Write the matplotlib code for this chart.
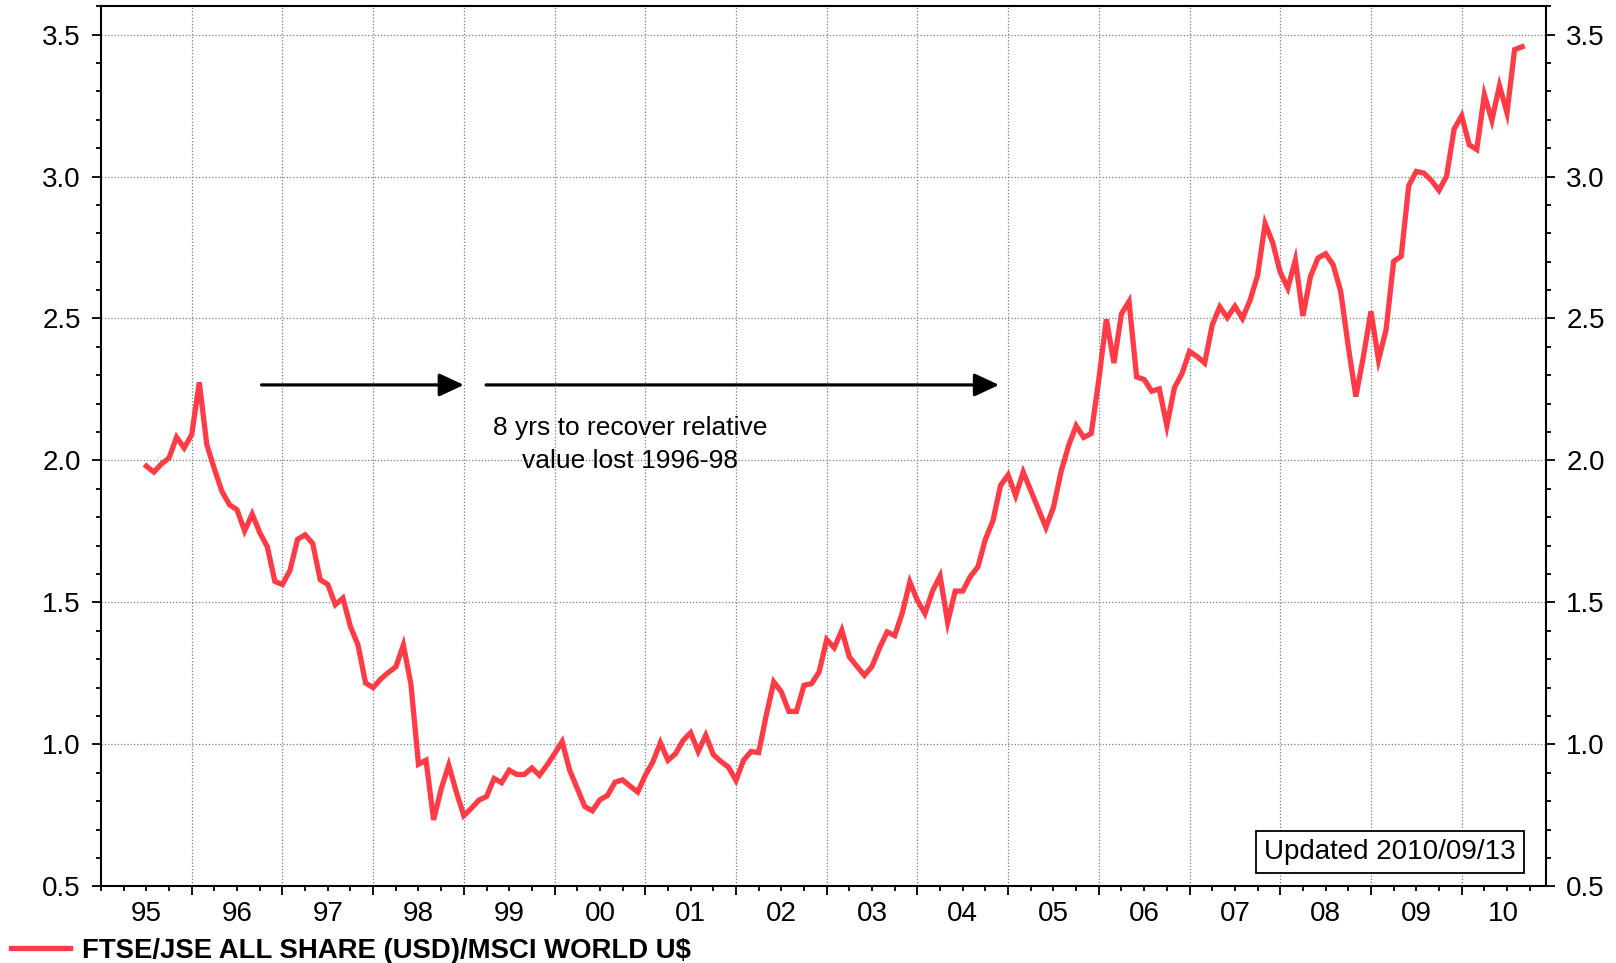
import numpy as np
import pandas as pd
import matplotlib
matplotlib.use("Agg")
import matplotlib.pyplot as plt
from matplotlib.ticker import MultipleLocator, NullFormatter

# FTSE/JSE All Share (USD) relative to MSCI World US$, monthly, Jul 1995 - Sep 2010
ratio_1995 = [1.980, 1.959, 1.988, 2.009, 2.082, 2.044]
ratio_1996 = [2.091, 2.275, 2.055, 1.970, 1.891, 1.844, 1.826, 1.752, 1.811, 1.746, 1.696, 1.574]
ratio_1997 = [1.563, 1.613, 1.722, 1.738, 1.708, 1.580, 1.563, 1.492, 1.515, 1.415, 1.350, 1.216]
ratio_1998 = [1.200, 1.230, 1.253, 1.273, 1.350, 1.212, 0.930, 0.944, 0.734, 0.843, 0.927, 0.833]
ratio_1999 = [0.749, 0.775, 0.804, 0.816, 0.880, 0.865, 0.909, 0.894, 0.894, 0.917, 0.891, 0.927]
ratio_2000 = [0.967, 1.010, 0.909, 0.845, 0.781, 0.766, 0.805, 0.820, 0.867, 0.875, 0.853, 0.832]
ratio_2001 = [0.891, 0.938, 1.006, 0.944, 0.967, 1.014, 1.041, 0.975, 1.032, 0.964, 0.940, 0.920]
ratio_2002 = [0.873, 0.944, 0.975, 0.971, 1.102, 1.220, 1.185, 1.116, 1.116, 1.208, 1.214, 1.255]
ratio_2003 = [1.369, 1.340, 1.402, 1.308, 1.275, 1.243, 1.275, 1.340, 1.396, 1.383, 1.463, 1.572]
ratio_2004 = [1.507, 1.461, 1.540, 1.593, 1.430, 1.540, 1.540, 1.591, 1.625, 1.723, 1.788, 1.912]
ratio_2005 = [1.949, 1.876, 1.959, 1.894, 1.829, 1.764, 1.835, 1.960, 2.052, 2.122, 2.081, 2.095]
ratio_2006 = [2.285, 2.497, 2.343, 2.517, 2.560, 2.294, 2.285, 2.244, 2.252, 2.122, 2.256, 2.306]
ratio_2007 = [2.384, 2.366, 2.343, 2.477, 2.541, 2.503, 2.543, 2.500, 2.564, 2.651, 2.834, 2.767]
ratio_2008 = [2.663, 2.607, 2.706, 2.509, 2.648, 2.713, 2.728, 2.689, 2.595, 2.401, 2.225, 2.366]
ratio_2009 = [2.525, 2.354, 2.460, 2.701, 2.719, 2.968, 3.018, 3.012, 2.986, 2.951, 3.001, 3.167]
ratio_2010 = [3.214, 3.112, 3.095, 3.288, 3.198, 3.320, 3.224, 3.447, 3.457]

year_labels = ["95", "96", "97", "98", "99", "00", "01", "02",
               "03", "04", "05", "06", "07", "08", "09", "10"]

series_label = "FTSE/JSE ALL SHARE (USD)/MSCI WORLD U$"
note_text = "8 yrs to recover relative\nvalue lost 1996-98"
updated_text = "Updated 2010/09/13"

values = np.array(ratio_1995 + ratio_1996 + ratio_1997 + ratio_1998 + ratio_1999 +
                  ratio_2000 + ratio_2001 + ratio_2002 + ratio_2003 + ratio_2004 +
                  ratio_2005 + ratio_2006 + ratio_2007 + ratio_2008 + ratio_2009 +
                  ratio_2010)
dates = pd.date_range("1995-07-01", periods=len(values), freq="MS")
t = dates.year + (dates.month - 1) / 12.0

plt.rcParams["font.family"] = ["Liberation Sans", "DejaVu Sans"]

red = "#ff3b46"
x_min, x_max = 1995.0, 2010.93
tick_size = 20

fig = plt.figure(figsize=(16.16, 9.63), dpi=100)
ax = fig.add_axes([0.0625, 0.0796, 0.8942, 0.914])

line, = ax.plot(t, values, color=red, lw=3.8, solid_joinstyle="miter", label=series_label)

ax.set_xlim(x_min, x_max)
ax.set_ylim(0.5, 3.6)

# y axis on both sides
ax.yaxis.set_major_locator(MultipleLocator(0.5))
ax.yaxis.set_minor_locator(MultipleLocator(0.1))
ax.yaxis.set_major_formatter(plt.FuncFormatter(lambda v, p: f"{v:.1f}"))
ax.tick_params(axis="y", which="both", direction="out", left=True, right=True,
               labelleft=True, labelright=True, labelsize=tick_size, pad=8, width=1.3)
ax.tick_params(axis="y", which="major", length=6.5)
ax.tick_params(axis="y", which="minor", length=3.5)

# x axis: year boundaries + quarter ticks, labels centred in each year
years = np.arange(1996, 2011)
ax.set_xticks(years)
ax.xaxis.set_minor_locator(MultipleLocator(0.25))
ax.xaxis.set_major_formatter(NullFormatter())
ax.tick_params(axis="x", which="both", direction="out", top=False, width=1.3)
ax.tick_params(axis="x", which="major", length=6.5)
ax.tick_params(axis="x", which="minor", length=3.5)

starts = np.arange(1995, 2011)
mids = [(s + min(s + 1, x_max)) / 2 for s in starts]
sec = ax.secondary_xaxis("bottom")
sec.set_xticks(mids, year_labels)
sec.tick_params(length=0, pad=10.5, labelsize=tick_size)
sec.spines["bottom"].set_visible(False)

ax.grid(True, which="major", color="#7f7f7f", linestyle=(0, (1, 1.6)), lw=0.9)
for s in ax.spines.values():
    s.set_linewidth(1.5)

# arrows and note
arrow_y = 2.266
arrow_kw = dict(arrowstyle="-|>,head_length=0.75,head_width=0.35", color="black",
                lw=2.3, mutation_scale=20, shrinkA=0, shrinkB=0)
ax.annotate("", xy=(1999.0, arrow_y), xytext=(1996.77, arrow_y), arrowprops=arrow_kw)
ax.annotate("", xy=(2004.9, arrow_y), xytext=(1999.245, arrow_y), arrowprops=arrow_kw)
ax.text(2000.83, 2.056, note_text, ha="center", va="center", fontsize=19, linespacing=1.45)

ax.text(0.892, 0.039, updated_text, transform=ax.transAxes, ha="center", va="center",
        fontsize=20, bbox=dict(boxstyle="square,pad=0.28", fc="white", ec="black", lw=1.3))

fig.legend(handles=[line], loc="center left", bbox_to_anchor=(0.0, 0.0125), frameon=False,
           handlelength=2.15, handletextpad=0.45, borderaxespad=0.0, borderpad=0.4,
           prop=dict(weight="bold", size=19.8))

fig.savefig("out.png", dpi=100)
